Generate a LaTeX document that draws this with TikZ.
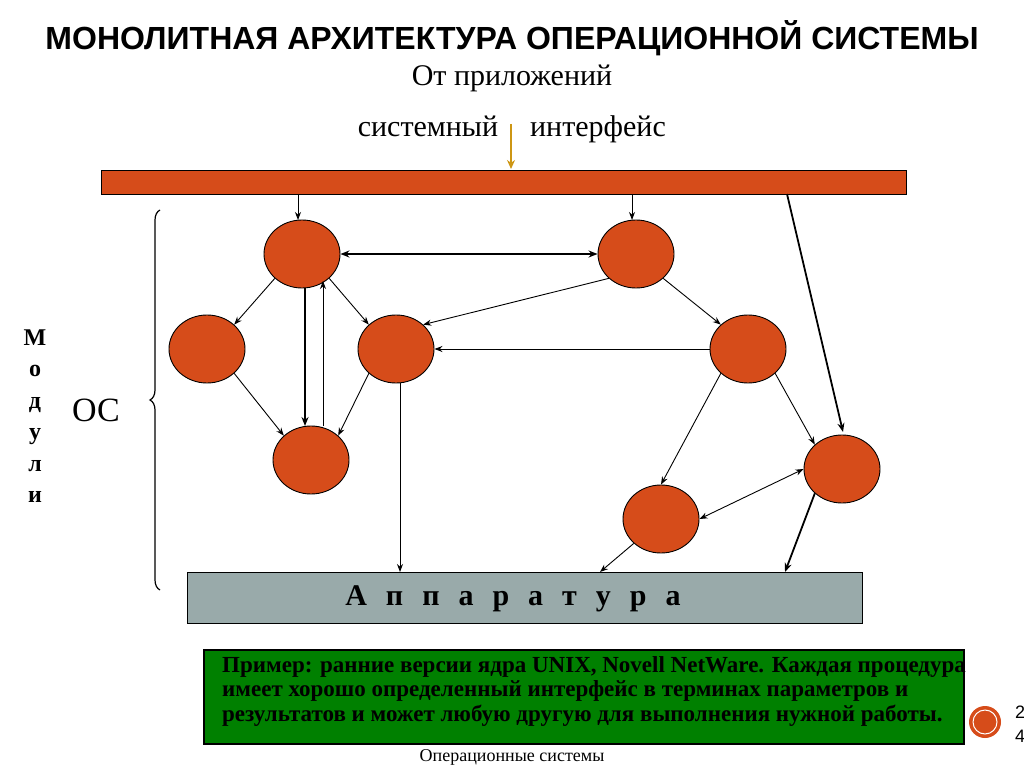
\documentclass[tikz,border=0pt]{standalone}
\usepackage{fontspec}
\setmainfont{Liberation Serif}
\newfontfamily\ttl{Liberation Sans}
\usetikzlibrary{decorations.pathreplacing,arrows.meta,shapes.geometric}
\begin{document}
\begin{tikzpicture}[x=1pt,y=-1pt,
 mod/.style={ellipse,draw,line width=0.9pt,minimum width=76pt,minimum height=68pt,inner sep=0pt},
 ar/.style={-{Stealth[length=8pt,width=6pt]},line width=0.9pt},
 tar/.style={-{Stealth[length=9pt,width=7pt]},line width=1.8pt},
 dar/.style={{Stealth[length=8pt,width=6pt]}-{Stealth[length=8pt,width=6pt]},line width=0.9pt}]
\definecolor{mc}{RGB}{214,76,26}
\tikzset{mod/.append style={fill=mc}}
\useasboundingbox (0,0) rectangle (1024,767);
\node[font=\ttl\bfseries\fontsize{32}{34}\selectfont] (t) at (512,38) {МОНОЛИТНАЯ АРХИТЕКТУРА ОПЕРАЦИОННОЙ СИСТЕМЫ};
\node[font=\fontsize{30}{32}\selectfont,anchor=base] (fa) at (512,86) {От приложений};
\node[font=\fontsize{30}{32}\selectfont,anchor=base] (si) at (428,137) {системный};
\node[font=\fontsize{30}{32}\selectfont,anchor=base] (in) at (598,137) {интерфейс};
\node[draw,line width=0.9pt,fill=mc,minimum width=805pt,minimum height=24pt,inner sep=0pt] (bar) at (503.5,182) {};
\coordinate (g1) at (511,124);
\draw[-{Stealth[length=9pt,width=8pt]},line width=2pt,draw={rgb,255:red,205;green,150;blue,20}] (g1) -- (511,169);
\node[mod] (A) at (302,254) {};
\node[mod] (B) at (636,254) {};
\node[mod] (C) at (207,349) {};
\node[mod] (D) at (396,349) {};
\node[mod] (E) at (748,349) {};
\node[mod] (F) at (311,460) {};
\node[mod] (G) at (842,469) {};
\node[mod] (H) at (661,519) {};
\node[draw,line width=0.9pt,fill={rgb,255:red,153;green,170;blue,170},minimum width=675pt,minimum height=51pt,inner sep=0pt] (hw) at (524.5,597.5) {};
\node[font=\bfseries\fontsize{30}{32}\selectfont] (hwt) at (513,599) {А\hspace{19pt}п\hspace{19pt}п\hspace{19pt}а\hspace{19pt}р\hspace{19pt}а\hspace{19pt}т\hspace{19pt}у\hspace{19pt}р\hspace{19pt}а};
\draw[ar] (298,194) -- (298,220);
\draw[ar] (632,194) -- (632,220);
\draw[tar] (787,194) -- (843,432);
\draw[{Stealth[length=9pt,width=7pt]}-{Stealth[length=9pt,width=7pt]},line width=1.8pt] (A.east) -- (B.west);
\draw[ar] (A.south west) -- (C.north east);
\draw[ar] (A.south east) -- (D.north west);
\draw[ar] (C.south east) -- (F.north west);
\draw[ar] (D.south west) -- (F.north east);
\draw[tar] (305,288) -- (305,426);
\draw[ar] (323,426) -- (323,281);
\draw[ar] (B.south west) -- (D.north east);
\draw[ar] (E.west) -- (D.east);
\draw[ar] (B.south east) -- (E.north west);
\draw[ar] (E.south west) -- (H.north);
\draw[ar] (E.south east) -- (G.north west);
\draw[dar] (H.east) -- (G.west);
\draw[ar] (400,383) -- (400,572);
\draw[ar] (H.south west) -- (600,572);
\draw[tar] (G.south west) -- (785,572);
\draw[decorate,decoration={brace,amplitude=10pt},line width=1.2pt] (160,590) -- (160,210);
\node[font=\fontsize{34}{36}\selectfont] (os) at (96,410) {ОС};
\node[font=\bfseries\fontsize{24}{31.5}\selectfont,align=center] (mo) at (35,416) {М\\о\\д\\у\\л\\и};
\node[draw,line width=1.6pt,fill={rgb,255:red,0;green,128;blue,0},minimum width=760pt,minimum height=94pt,inner sep=0pt] (gb) at (584,697) {};
\node[anchor=north west,align=left,font=\bfseries\fontsize{23}{24.5}\selectfont,inner sep=0pt] (gt) at (222,656) {Пример: ранние версии ядра UNIX, Novell NetWare. Каждая процедура\\имеет хорошо определенный интерфейс в терминах параметров и\\результатов и может любую другую для выполнения нужной работы.};
\node[circle,fill=mc,minimum size=32pt,inner sep=0pt] (rc) at (985,722) {};
\draw[white,line width=1pt] (rc) circle (12);
\node[font=\ttl\fontsize{18}{24}\selectfont,align=left] (pg) at (1020,724) {2\\4};
\node[font=\fontsize{18}{20}\selectfont] (ft) at (512,757) {Операционные системы};
\end{tikzpicture}
\end{document}
